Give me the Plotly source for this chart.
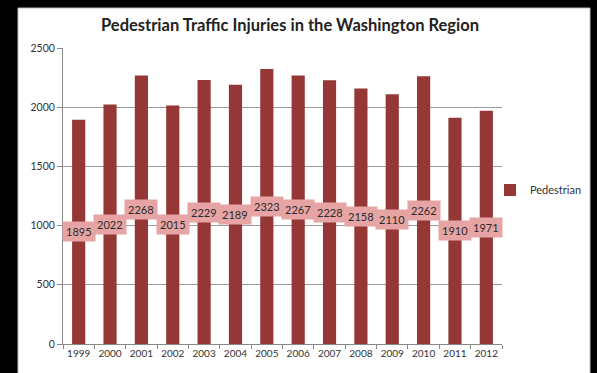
import plotly.graph_objects as go

years = ["1999", "2000", "2001", "2002", "2003", "2004", "2005",
         "2006", "2007", "2008", "2009", "2010", "2011", "2012"]
pedestrian = [1895, 2022, 2268, 2015, 2229, 2189, 2323,
              2267, 2228, 2158, 2110, 2262, 1910, 1971]
y_ticks = [0, 500, 1000, 1500, 2000, 2500]

W, H = 597, 373
L, R, T, B = 63, 95, 48, 29
FONT = "Lato, Open Sans, sans-serif"

fig = go.Figure()
fig.add_trace(go.Bar(
    x=years, y=pedestrian, name="Pedestrian",
    marker=dict(color="#953735", line=dict(width=0)),
))

for i, v in enumerate(pedestrian):
    fig.add_annotation(
        x=i, y=v / 2, text=str(v), showarrow=False,
        font=dict(family=FONT, size=11, color="#2b2b2b"),
        bgcolor="#e6a4a4", borderpad=3,
    )

PW, PH = W - L - R, H - T - B
fig.add_shape(type="rect", xref="paper", yref="paper",
              x0=(18 - L) / PW, x1=(590 - L) / PW,
              y0=-(B + 2) / PH, y1=(H - 8 - B) / PH,
              fillcolor="white", line=dict(color="#bbbbbb", width=1), layer="below")

fig.update_layout(
    width=W, height=H,
    margin=dict(l=L, r=R, t=T, b=B, autoexpand=False),
    paper_bgcolor="black", plot_bgcolor="rgba(0,0,0,0)",
    bargap=0.58,
    title=dict(text="<b>Pedestrian Traffic Injuries in the Washington Region</b>",
               x=290 / W, xanchor="center", y=1 - 25 / H, yanchor="middle",
               font=dict(family=FONT, size=16.5, color="#222222")),
    showlegend=True,
    legend=dict(xref="container", yref="container",
                x=490 / W, y=1 - 190 / H,
                xanchor="left", yanchor="middle", bgcolor="rgba(0,0,0,0)",
                font=dict(family=FONT, size=11, color="#333333"),
                itemwidth=30),
    xaxis=dict(
        type="category", range=[-0.5, len(years) - 0.5],
        showline=True, linecolor="#888888", linewidth=1,
        ticks="outside", ticklen=4, tickcolor="#888888",
        tickson="boundaries", tickangle=0,
        tickfont=dict(family=FONT, size=10, color="#333333"),
        showgrid=False,
    ),
    yaxis=dict(
        range=[0, 2500], tickvals=y_ticks,
        showline=True, linecolor="#888888", linewidth=1,
        ticks="outside", ticklen=5, tickcolor="#888888",
        showgrid=True, gridcolor="#9a9a9a", gridwidth=1,
        zeroline=False,
        tickfont=dict(family=FONT, size=10.5, color="#333333"),
    ),
)

fig.write_html("out.html")
